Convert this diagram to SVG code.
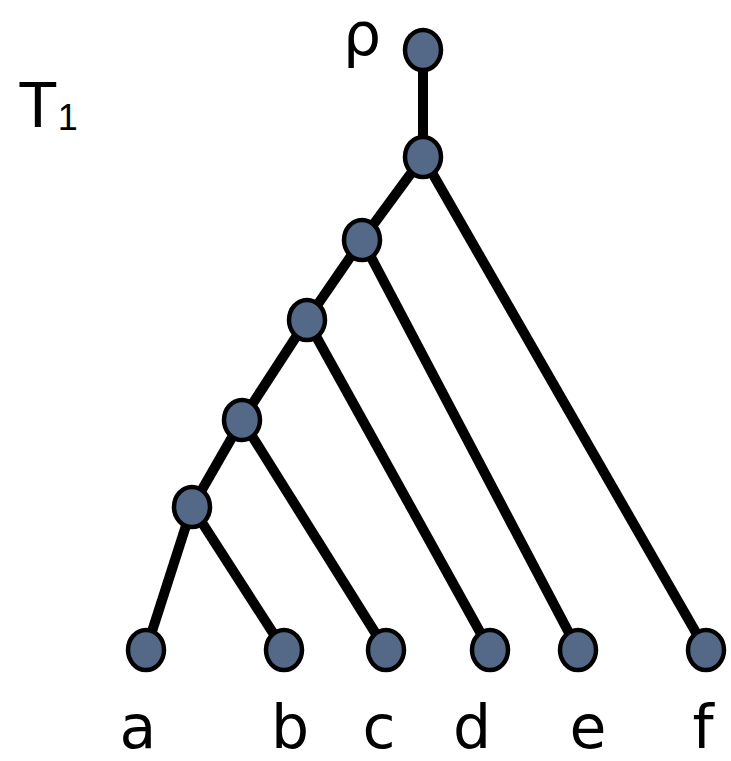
<svg xmlns="http://www.w3.org/2000/svg" width="731" height="761" viewBox="0 0 731 761">
<style>
.e{stroke:#000;stroke-width:10;fill:none}
.n{fill:#536987;stroke:#000;stroke-width:4.5}
.l{font-family:"DejaVu Sans","Liberation Sans",sans-serif;font-size:60px;fill:#000;text-anchor:middle}
.t{font-family:"Liberation Sans",Arial,sans-serif;fill:#000}
</style>
<rect width="731" height="761" fill="#fff"/>
<g id="edges">
<line class="e" x1="423" y1="50" x2="423" y2="157"/>
<line class="e" x1="423" y1="157" x2="362" y2="240"/>
<line class="e" x1="423" y1="157" x2="706" y2="650"/>
<line class="e" x1="362" y1="240" x2="307" y2="320"/>
<line class="e" x1="362" y1="240" x2="578" y2="650"/>
<line class="e" x1="307" y1="320" x2="242" y2="420"/>
<line class="e" x1="307" y1="320" x2="490" y2="650"/>
<line class="e" x1="242" y1="420" x2="192" y2="507"/>
<line class="e" x1="242" y1="420" x2="386" y2="650"/>
<line class="e" x1="192" y1="507" x2="146" y2="650"/>
<line class="e" x1="192" y1="507" x2="284" y2="650"/>
</g>
<g id="root"><ellipse class="n" cx="423" cy="50" rx="18" ry="20"/></g>
<g id="n1"><ellipse class="n" cx="423" cy="157" rx="18" ry="20"/></g>
<g id="n2"><ellipse class="n" cx="362" cy="240" rx="18" ry="20"/></g>
<g id="n3"><ellipse class="n" cx="307" cy="320" rx="18" ry="20"/></g>
<g id="n4"><ellipse class="n" cx="242" cy="420" rx="18" ry="20"/></g>
<g id="n5"><ellipse class="n" cx="192" cy="507" rx="18" ry="20"/></g>
<g id="a"><ellipse class="n" cx="146" cy="650" rx="18" ry="20"/><text class="l" x="138" y="748">a</text></g>
<g id="b"><ellipse class="n" cx="284" cy="650" rx="18" ry="20"/><text class="l" x="290" y="748">b</text></g>
<g id="c"><ellipse class="n" cx="386" cy="650" rx="18" ry="20"/><text class="l" x="379" y="748">c</text></g>
<g id="d"><ellipse class="n" cx="490" cy="650" rx="18" ry="20"/><text class="l" x="472" y="748">d</text></g>
<g id="e"><ellipse class="n" cx="578" cy="650" rx="18" ry="20"/><text class="l" x="588" y="748">e</text></g>
<g id="f"><ellipse class="n" cx="706" cy="650" rx="18" ry="20"/><text class="l" x="703" y="748">f</text></g>
<text class="l" x="362" y="55">ρ</text>
<text class="t" x="18" y="127" font-size="65">T<tspan font-size="36" dy="3">1</tspan></text>
</svg>
